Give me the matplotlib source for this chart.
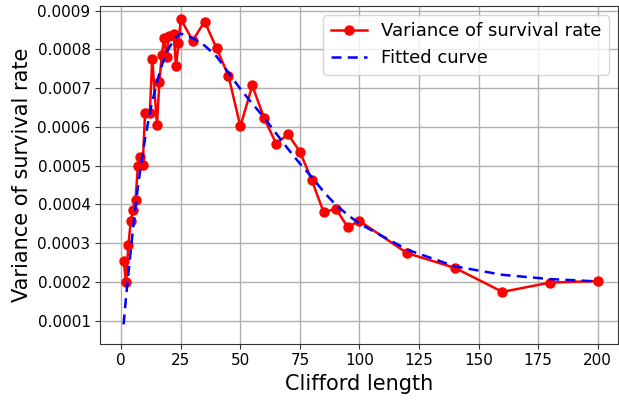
import matplotlib
matplotlib.use("Agg")
import matplotlib.pyplot as plt

# Clifford lengths and measured variance
lengths = [1, 2, 3, 4, 5, 6, 7, 8, 9, 10, 12, 13, 15, 16, 17, 18, 19, 20,
           22, 23, 24, 25, 30, 35, 40, 45, 50, 55, 60, 65, 70, 75, 80, 85,
           90, 95, 100, 120, 140, 160, 180, 200]
variance = [0.000254, 0.000200, 0.000294, 0.000358, 0.000386, 0.000411,
            0.000500, 0.000522, 0.000502, 0.000635, 0.000636, 0.000776,
            0.000604, 0.000716, 0.000785, 0.000829, 0.000780, 0.000835,
            0.000840, 0.000756, 0.000816, 0.000878, 0.000823, 0.000872,
            0.000803, 0.000732, 0.000601, 0.000707, 0.000622, 0.000557,
            0.000581, 0.000536, 0.000462, 0.000379, 0.000389, 0.000342,
            0.000357, 0.000274, 0.000236, 0.000174, 0.000198, 0.000202]
# fitted curve sampled at the same lengths
fitted = [0.000090, 0.000160, 0.000220, 0.000280, 0.000340, 0.000395,
          0.000445, 0.000490, 0.000530, 0.000570, 0.000635, 0.000665,
          0.000715, 0.000738, 0.000758, 0.000775, 0.000790, 0.000803,
          0.000823, 0.000831, 0.000837, 0.000841, 0.000829, 0.000810,
          0.000782, 0.000740, 0.000698, 0.000660, 0.000624, 0.000583,
          0.000543, 0.000505, 0.000470, 0.000432, 0.000399, 0.000373,
          0.000350, 0.000283, 0.000240, 0.000218, 0.000207, 0.000201]

fig, ax = plt.subplots(figsize=(6.19, 4.03), dpi=100)

ax.plot(lengths, variance, color="red", marker="o", markersize=6.5, linewidth=1.8,
        label="Variance of survival rate")
ax.plot(lengths, fitted, color="blue", linestyle="--", linewidth=1.8,
        dashes=(4, 2.5), label="Fitted curve")

ax.set_xlabel("Clifford length", fontsize=15)
ax.set_ylabel("Variance of survival rate", fontsize=15)
ax.set_xlim(-8.8, 208.4)
ax.set_ylim(0.00004, 0.000912)
ax.set_xticks([0, 25, 50, 75, 100, 125, 150, 175, 200])
ax.set_yticks([0.0001 * i for i in range(1, 10)])
ax.set_yticklabels(["%.4f" % (0.0001 * i) for i in range(1, 10)])
ax.tick_params(labelsize=11, color="#333333")
ax.grid(True, color="#b0b0b0", linewidth=1)
for s in ax.spines.values():
    s.set_color("#333333")
ax.legend(fontsize=13, loc="upper right")

plt.subplots_adjust(left=0.162, right=0.998, top=0.985, bottom=0.147)
fig.savefig("out.png")
